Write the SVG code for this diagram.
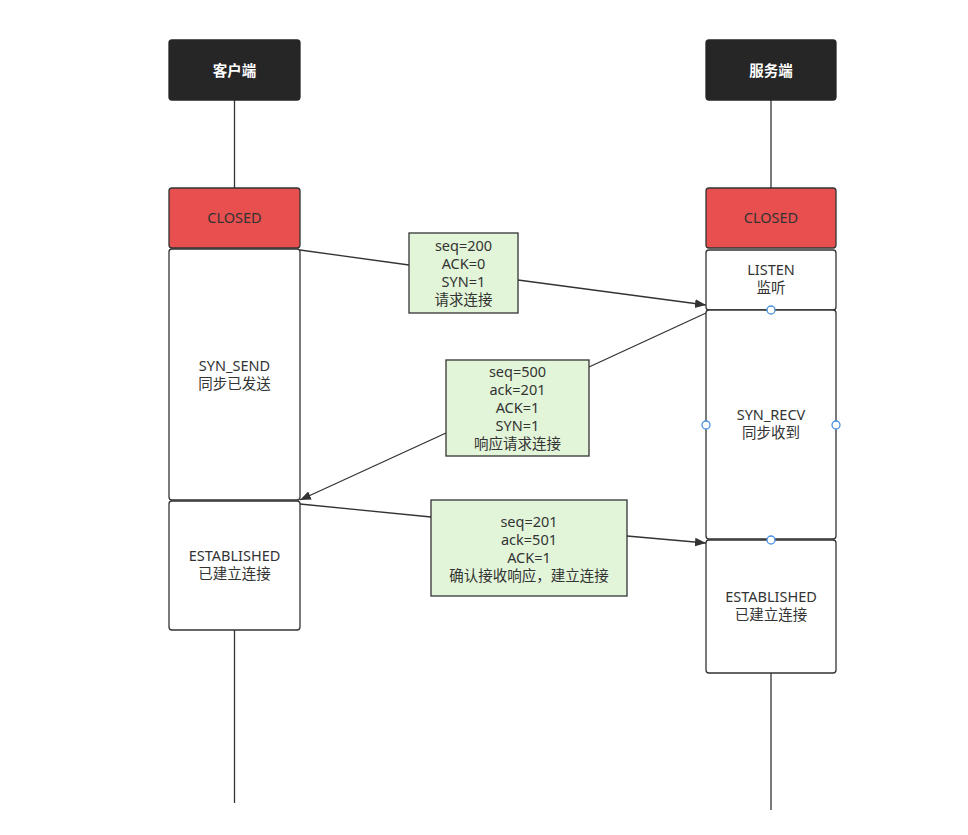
<svg xmlns="http://www.w3.org/2000/svg" width="968" height="835" viewBox="0 0 968 835">
<defs>
<style>
.hdr{fill:#262626;stroke:#262626;stroke-width:1.3}
.closed{fill:#e84f4f;stroke:#333333;stroke-width:1.3}
.state{fill:#ffffff;stroke:#333333;stroke-width:1.3}
.lbl{fill:#e2f5d9;stroke:#333333;stroke-width:1.3}
.life{stroke:#333333;stroke-width:1.3;fill:none}
.conn{stroke:#333333;stroke-width:1.3;fill:none}
.t{font-family:"Noto Sans","Noto Sans CJK SC",sans-serif;font-size:14.5px;fill:#333333;text-anchor:middle}
.th{font-family:"Noto Sans CJK SC","Noto Sans",sans-serif;font-size:14.5px;font-weight:bold;fill:#ffffff;text-anchor:middle}
.pt{fill:#ffffff;stroke:#4a90e2;stroke-width:1.3}
</style>
<marker id="arr" viewBox="0 0 10 10" refX="10" refY="5" markerWidth="11" markerHeight="11" orient="auto" markerUnits="userSpaceOnUse">
<path d="M0,1 L10,5 L0,9 Z" fill="#333333"/>
</marker>
</defs>
<rect width="968" height="835" fill="#ffffff"/>

<g id="lifelines">
<line class="life" x1="234.5" y1="100" x2="234.5" y2="188"/>
<line class="life" x1="234.5" y1="630" x2="234.5" y2="803"/>
<line class="life" x1="771" y1="100" x2="771" y2="188"/>
<line class="life" x1="771" y1="673" x2="771" y2="810"/>
</g>

<g id="client-header"><rect class="hdr" x="169" y="40" width="131" height="60" rx="3"/><text class="th" x="234.5" y="76">客户端</text></g>
<g id="server-header"><rect class="hdr" x="706" y="40" width="130" height="60" rx="3"/><text class="th" x="771" y="76">服务端</text></g>

<g id="client-closed"><rect class="closed" x="169" y="188" width="131" height="60" rx="3"/><text class="t" x="234.5" y="223">CLOSED</text></g>
<g id="client-synsend"><rect class="state" x="169" y="249" width="131" height="251" rx="3"/><text class="t" x="234.5" y="371">SYN_SEND</text><text class="t" x="234.5" y="389">同步已发送</text></g>
<g id="client-established"><rect class="state" x="169" y="501" width="131" height="129" rx="3"/><text class="t" x="234.5" y="561">ESTABLISHED</text><text class="t" x="234.5" y="579">已建立连接</text></g>

<g id="server-closed"><rect class="closed" x="706" y="188" width="130" height="60" rx="3"/><text class="t" x="771" y="223">CLOSED</text></g>
<g id="server-listen"><rect class="state" x="706" y="250" width="130" height="60" rx="3"/><text class="t" x="771" y="275">LISTEN</text><text class="t" x="771" y="293">监听</text></g>
<g id="server-synrecv"><rect class="state" x="706" y="310" width="130" height="229" rx="3"/><text class="t" x="771" y="420">SYN_RECV</text><text class="t" x="771" y="438">同步收到</text></g>
<g id="server-established"><rect class="state" x="706" y="540" width="130" height="133" rx="3"/><text class="t" x="771" y="602">ESTABLISHED</text><text class="t" x="771" y="620">已建立连接</text></g>

<g id="connectors">
<line class="conn" x1="300" y1="250" x2="409" y2="265"/>
<line class="conn" x1="518" y1="280" x2="706" y2="305" marker-end="url(#arr)"/>
<line class="conn" x1="706" y1="313" x2="589" y2="367"/>
<line class="conn" x1="446" y1="433" x2="300" y2="500" marker-end="url(#arr)"/>
<line class="conn" x1="300" y1="504" x2="431" y2="517"/>
<line class="conn" x1="627" y1="536" x2="706" y2="543" marker-end="url(#arr)"/>
</g>

<g id="label-syn"><rect class="lbl" x="409" y="233" width="109" height="80"/>
<text class="t" x="463.5" y="251">seq=200</text><text class="t" x="463.5" y="269">ACK=0</text><text class="t" x="463.5" y="287">SYN=1</text><text class="t" x="463.5" y="305">请求连接</text></g>
<g id="label-synack"><rect class="lbl" x="446" y="360" width="143" height="96"/>
<text class="t" x="517.5" y="377">seq=500</text><text class="t" x="517.5" y="395">ack=201</text><text class="t" x="517.5" y="413">ACK=1</text><text class="t" x="517.5" y="431">SYN=1</text><text class="t" x="517.5" y="449">响应请求连接</text></g>
<g id="label-ack"><rect class="lbl" x="431" y="500" width="196" height="96"/>
<text class="t" x="529" y="527">seq=201</text><text class="t" x="529" y="545">ack=501</text><text class="t" x="529" y="563">ACK=1</text><text class="t" x="529" y="581">确认接收响应，建立连接</text></g>

<g id="handles">
<circle class="pt" cx="771" cy="310" r="4"/>
<circle class="pt" cx="706" cy="425" r="4"/>
<circle class="pt" cx="836" cy="425" r="4"/>
<circle class="pt" cx="771" cy="540" r="4"/>
</g>
</svg>
